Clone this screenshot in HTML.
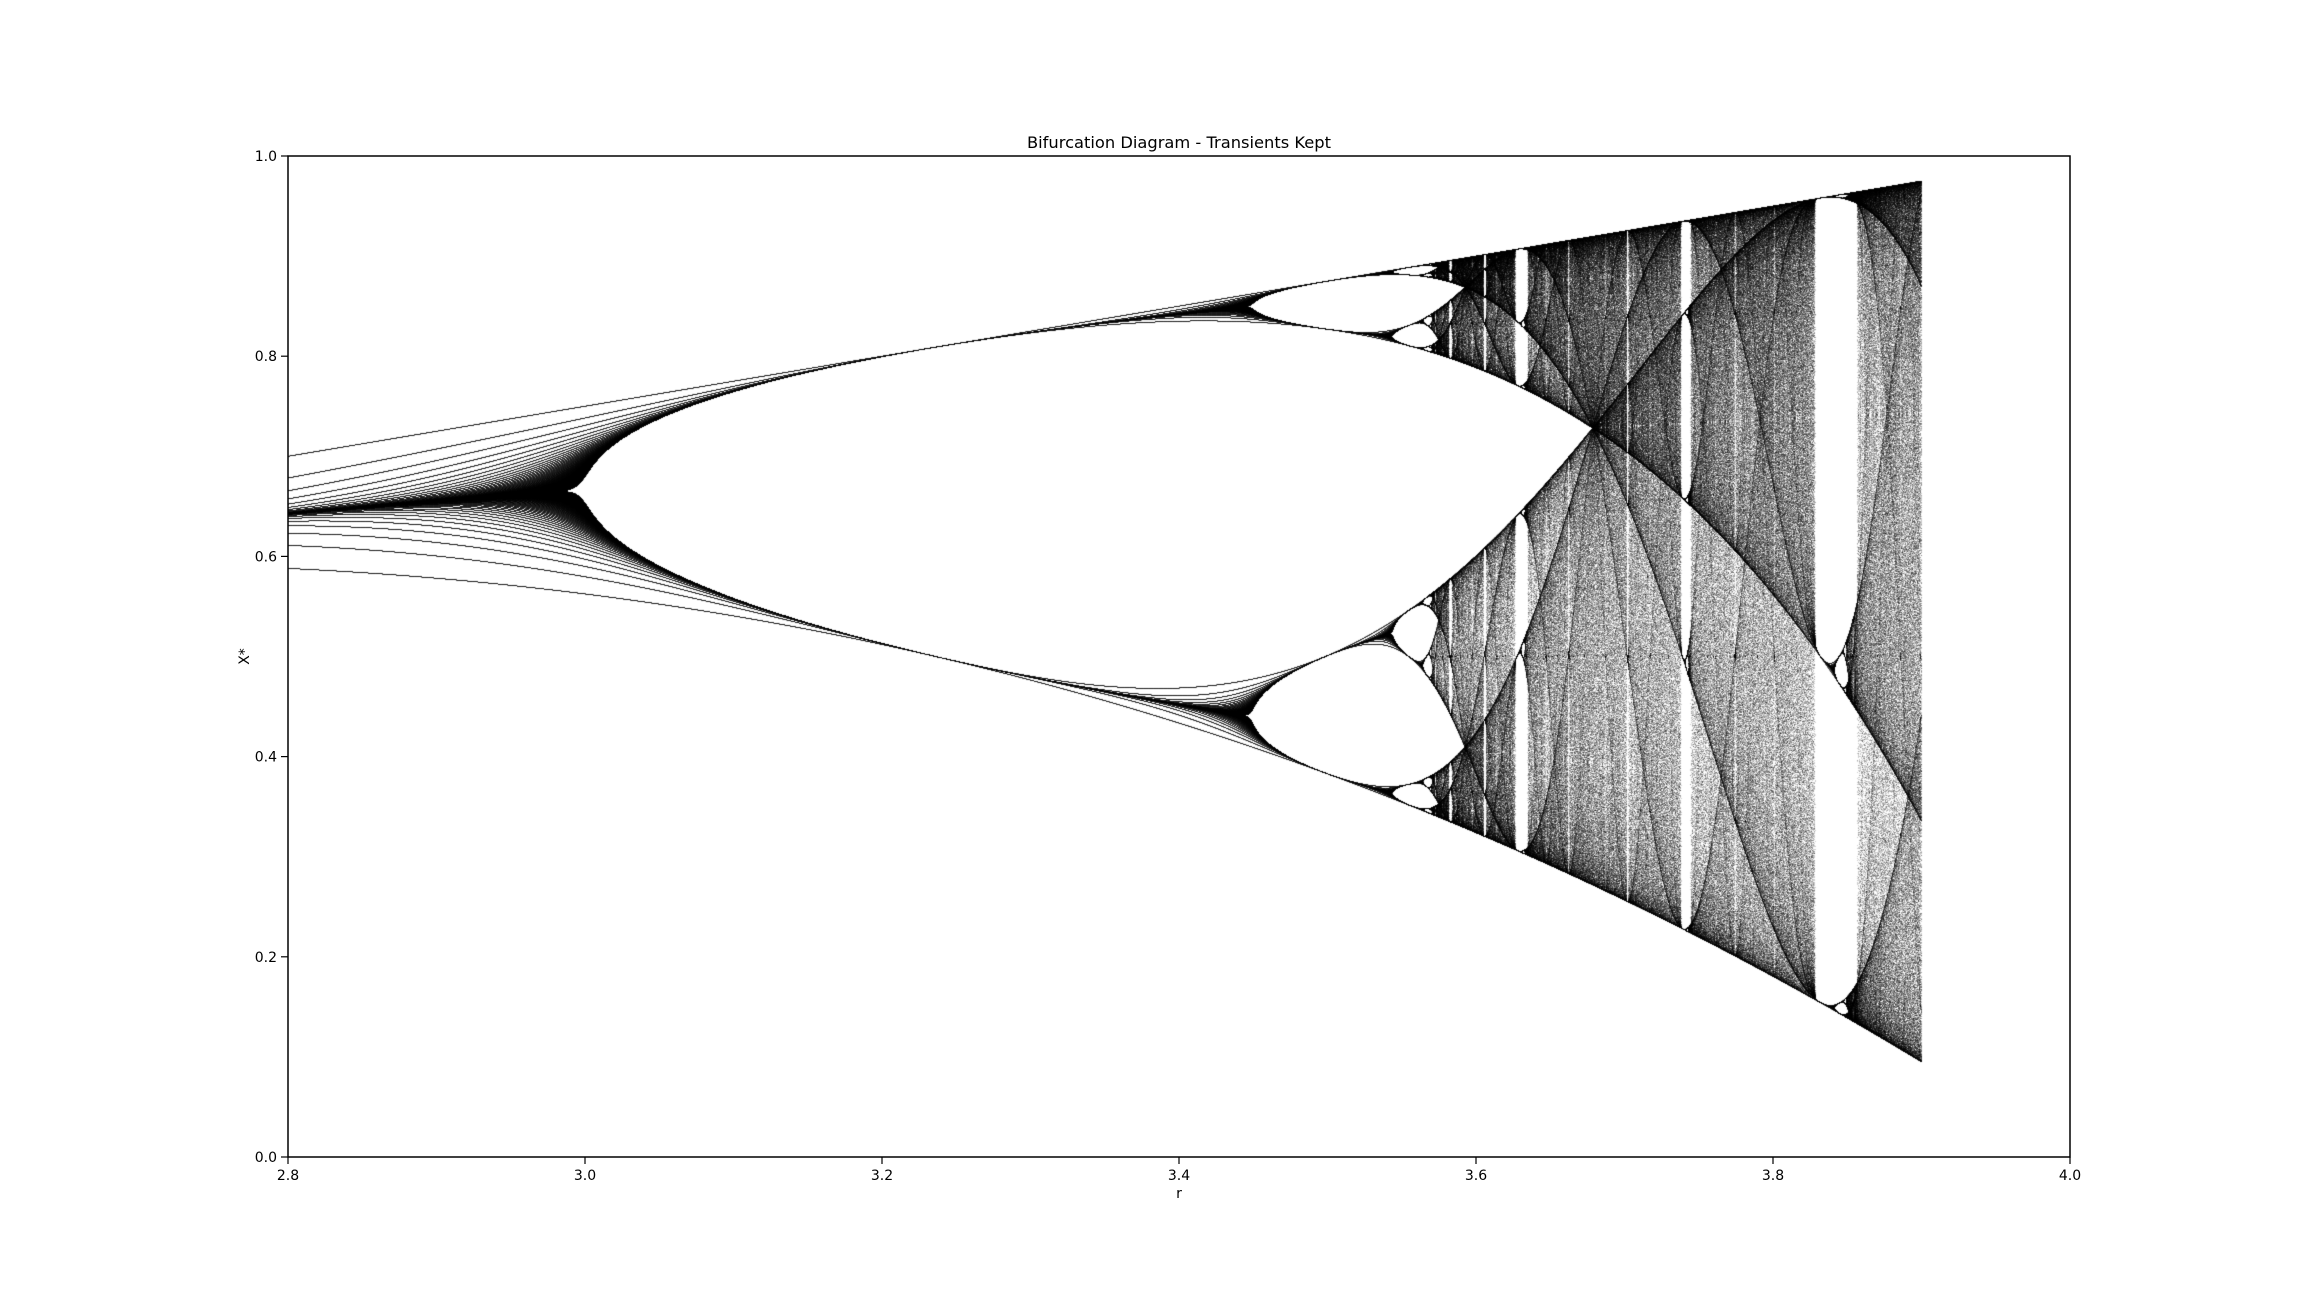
<!DOCTYPE html>
<html><head><meta charset="utf-8"><style>
html,body{margin:0;padding:0;background:#fff;}
#wrap{position:relative;width:2300px;height:1300px;font-family:"DejaVu Sans","Liberation Sans",sans-serif;}
canvas{position:absolute;left:0;top:0;}
svg{position:absolute;left:0;top:0;}
</style></head><body>
<div id="wrap">
<canvas id="cv" width="2300" height="1300"></canvas>
<svg id="sv" width="2300" height="1300"></svg>
</div>
<script>
// model parameters (data)
const rStart = [2.8];
const rEnd = [3.9];
const rCount = [16000];
const iterations = [300];
const x0 = [0.5];
const xTicks = [2.8, 3.0, 3.2, 3.4, 3.6, 3.8, 4.0];
const yTicks = [0.0, 0.2, 0.4, 0.6, 0.8, 1.0];
const xDomain = [2.8, 4.0];
const yDomain = [0.0, 1.0];

const L = 288, R = 2070, T = 156, B = 1157;
const sx = v => L + (v - xDomain[0]) / (xDomain[1] - xDomain[0]) * (R - L);
const sy = v => B - (v - yDomain[0]) / (yDomain[1] - yDomain[0]) * (B - T);

const cv = document.getElementById('cv');
const ctx = cv.getContext('2d');
const W = 2300, H = 1300;
const hits = new Float32Array(W * H);
const n = rCount[0];
for (let i = 0; i < n; i++) {
  const r = rStart[0] + (rEnd[0] - rStart[0]) * i / (n - 1);
  let x = x0[0];
  const ix = Math.floor(sx(r));
  for (let k = 0; k < iterations[0]; k++) {
    x = r * x * (1 - x);
    const iy = Math.floor(sy(x));
    if (ix >= L && ix <= R && iy >= T && iy <= B) hits[iy * W + ix] += 1;
  }
}
const img = ctx.createImageData(W, H);
const d = img.data;
for (let p = 0; p < W * H; p++) {
  const h = hits[p];
  const a = h > 0 ? 1 - Math.pow(0.8, h) : 0;
  const v = Math.round(255 * (1 - a));
  d[p*4] = v; d[p*4+1] = v; d[p*4+2] = v; d[p*4+3] = 255;
}
ctx.putImageData(img, 0, 0);

const sv = document.getElementById('sv');
const NS = 'http://www.w3.org/2000/svg';
function mk(tag, attrs, parent) {
  const e = document.createElementNS(NS, tag);
  for (const k in attrs) e.setAttribute(k, attrs[k]);
  (parent || sv).appendChild(e);
  return e;
}
const frame = mk('rect', {x: L, y: T, width: R - L, height: B - T, fill: 'none', stroke: '#000', 'stroke-width': 1.5});


xTicks.forEach(t => {
  const x = sx(t);
  const ln = mk('line', {x1: x, x2: x, y1: B, y2: B + 7, stroke: '#000', 'stroke-width': 1.2});
  
  
  const tx = mk('text', {x: x, y: B + 23, 'font-size': 14, 'text-anchor': 'middle', fill: '#000'});
  tx.textContent = t.toFixed(1);
  
  
});
yTicks.forEach(t => {
  const y = sy(t);
  const ln = mk('line', {x1: L - 7, x2: L, y1: y, y2: y, stroke: '#000', 'stroke-width': 1.2});
  
  
  const tx = mk('text', {x: L - 11, y: y + 5, 'font-size': 14, 'text-anchor': 'end', fill: '#000'});
  tx.textContent = t.toFixed(1);
  
  
});
const title = mk('text', {x: (L + R) / 2, y: T - 8, 'font-size': 16.3, 'text-anchor': 'middle', fill: '#000'});
title.textContent = 'Bifurcation Diagram - Transients Kept';


const xl = mk('text', {x: (L + R) / 2, y: B + 41, 'font-size': 14, 'text-anchor': 'middle', fill: '#000'});
xl.textContent = 'r';


const yl = mk('text', {x: 249, y: (T + B) / 2, 'font-size': 14, 'text-anchor': 'middle', fill: '#000', transform: 'rotate(-90 249 ' + ((T + B) / 2) + ')'});
yl.textContent = 'X*';


</script>
</body></html>
